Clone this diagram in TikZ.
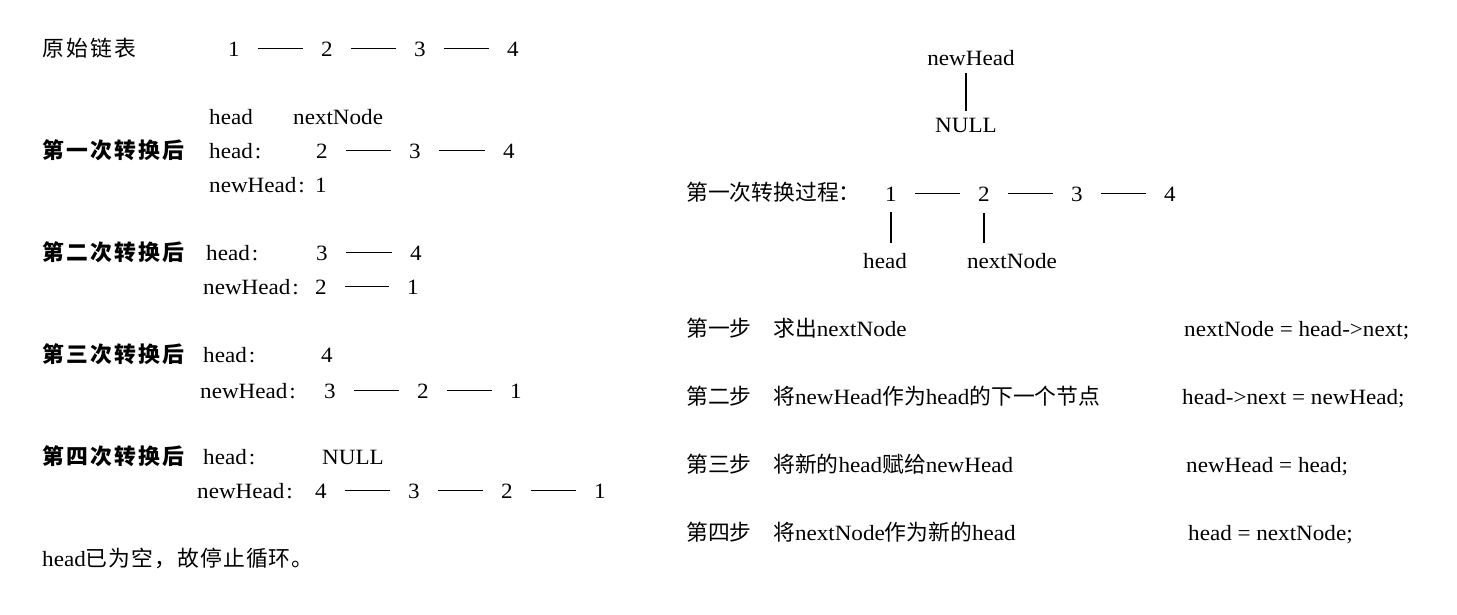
\documentclass[tikz,border=0pt]{standalone}
\usepackage{fontspec}
\setmainfont[FakeStretch=1.06]{Liberation Serif}
\newfontfamily\cjk{Noto Sans CJK SC}
\newfontfamily\cjksp[LetterSpace=10]{Noto Sans CJK SC}
\newfontfamily\cjkend[LetterSpace=5]{Noto Sans CJK SC}
\newcommand\fsz{\fontsize{21.8pt}{26pt}\selectfont}
\newcommand\colo{\kern2pt:}
\tikzset{
  txt/.style={anchor=base west, inner sep=0pt, font=\fsz},
  num/.style={anchor=base, inner sep=0pt, font=\fsz},
  digit/.style={num, text height=14.6pt, text depth=0pt},
  link/.style={draw=black, line width=1.2pt, shorten <=18.5pt, shorten >=18.5pt},
  vlink/.style={draw=black, line width=1.2pt},
  headline/.style={txt, font=\fsz\bfseries}
}
\begin{document}
\begin{tikzpicture}[x=1pt,y=-1pt]
\useasboundingbox (0,0) rectangle (1457,614);
% ---------------- left column ----------------
\node[txt] (t0) at (42,56) {\cjksp 原始链表};
\node[digit] (o1) at (234,56) {1};
\node[digit] (o2) at (327,56) {2};
\node[digit] (o3) at (420,56) {3};
\node[digit] (o4) at (513,56) {4};
\draw[link] (o1) -- (o2);
\draw[link] (o2) -- (o3);
\draw[link] (o3) -- (o4);

\node[txt] (l1a) at (209,124) {head};
\node[txt] (l1b) at (293,124) {nextNode};
\node[headline] (h1) at (42,158) {\cjksp 第一次转换后};
\node[txt] (h1h) at (209,158) {head\colo};
\node[digit] (a2) at (322,158) {2};
\node[digit] (a3) at (415,158) {3};
\node[digit] (a4) at (509,158) {4};
\draw[link] (a2) -- (a3);
\draw[link] (a3) -- (a4);
\node[txt] (h1n) at (209,192) {newHead\colo};
\node[digit] (b1) at (321,192) {1};

\node[headline] (h2) at (42,260) {\cjksp 第二次转换后};
\node[txt] (h2h) at (206,260) {head\colo};
\node[digit] (c3) at (322,260) {3};
\node[digit] (c4) at (416,260) {4};
\draw[link] (c3) -- (c4);
\node[txt] (h2n) at (203,294) {newHead\colo};
\node[digit] (d2) at (321,294) {2};
\node[digit] (d1) at (413,294) {1};
\draw[link] (d2) -- (d1);

\node[headline] (h3) at (42,362) {\cjksp 第三次转换后};
\node[txt] (h3h) at (203,362) {head\colo};
\node[digit] (e4) at (327,362) {4};
\node[txt] (h3n) at (200,398) {newHead\colo};
\node[digit] (f3) at (330,398) {3};
\node[digit] (f2) at (423,398) {2};
\node[digit] (f1) at (516,398) {1};
\draw[link] (f3) -- (f2);
\draw[link] (f2) -- (f1);

\node[headline] (h4) at (42,464) {\cjksp 第四次转换后};
\node[txt] (h4h) at (203,464) {head\colo};
\node[txt] (h4null) at (322,464) {NULL};
\node[txt] (h4n) at (197,498) {newHead\colo};
\node[digit] (g4) at (321,498) {4};
\node[digit] (g3) at (414,498) {3};
\node[digit] (g2) at (507,498) {2};
\node[digit] (g1) at (600,498) {1};
\draw[link] (g4) -- (g3);
\draw[link] (g3) -- (g2);
\draw[link] (g2) -- (g1);

\node[txt] (endl) at (42,566) {head{\cjkend 已为空，故停止循环。}};

% ---------------- right column ----------------
\node[num] (nh) at (971,65) {newHead};
\node[num] (nul) at (966,132) {NULL};
\draw[vlink, shorten <=8pt, shorten >=7pt] (nh.south -| nul.north) -- (nul.north);

\node[txt] (proc) at (686,200) {\cjk 第一次转换过程：};
\node[digit] (p1) at (891,201) {1};
\node[digit] (p2) at (984,201) {2};
\node[digit] (p3) at (1077,201) {3};
\node[digit] (p4) at (1170,201) {4};
\draw[link] (p1) -- (p2);
\draw[link] (p2) -- (p3);
\draw[link] (p3) -- (p4);
\node[num] (hd) at (885,268) {head};
\node[num] (nn) at (1012,268) {nextNode};
\draw[vlink, shorten <=11pt, shorten >=10pt] (p1.south) -- (p1.south |- hd.north);
\draw[vlink, shorten <=12pt, shorten >=10pt] (p2.south) -- (p2.south |- nn.north);

\node[txt] (s1) at (686,336) {\cjk 第一步};
\node[txt] (s1d) at (773,336) {{\cjk 求出}nextNode};
\node[txt] (s1c) at (1184,336) {nextNode = head->next;};

\node[txt] (s2) at (686,404) {\cjk 第二步};
\node[txt] (s2d) at (773,404) {{\cjk 将}newHead{\cjk 作为}head{\cjk 的下一个节点}};
\node[txt] (s2c) at (1182,404) {head->next = newHead;};

\node[txt] (s3) at (686,472) {\cjk 第三步};
\node[txt] (s3d) at (773,472) {{\cjk 将新的}head{\cjk 赋给}newHead};
\node[txt] (s3c) at (1186,472) {newHead = head;};

\node[txt] (s4) at (686,540) {\cjk 第四步};
\node[txt] (s4d) at (773,540) {{\cjk 将}nextNode{\cjk 作为新的}head};
\node[txt] (s4c) at (1188,540) {head = nextNode;};
\end{tikzpicture}
\end{document}
